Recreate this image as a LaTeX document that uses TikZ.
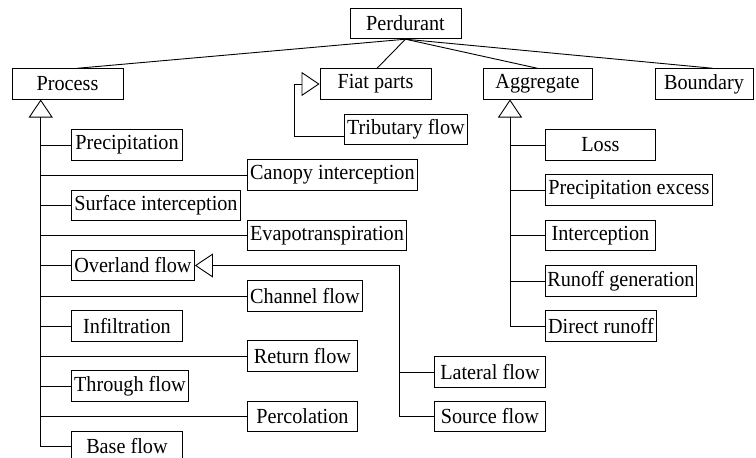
\documentclass[tikz,border=0pt]{standalone}
\usepackage{fontspec}
\setmainfont[FakeStretch=0.94]{Liberation Serif}
\usetikzlibrary{arrows.meta}
\definecolor{Ink}{HTML}{000000}
\tikzset{box/.style={draw=Ink,line width=.9pt,minimum height=30.5,inner xsep=1pt,inner ysep=0pt,font=\fontsize{21.5}{23}\selectfont},
  link/.style={draw=Ink,line width=.9pt},
  gen/.style={link,-{Triangle[open,length=18,width=24,line width=.9pt]}}}
\begin{document}
\begin{tikzpicture}[x=1pt,y=-1pt]
\useasboundingbox (0,0) rectangle (756,458);
% top level
\node[box,minimum width=111] (Perdurant) at (405.5,23.5) {Perdurant};
\node[box,minimum width=111] (Process) at (67.5,84) {Process};
\node[box,minimum width=111] (Fiat) at (375.5,84) {Fiat parts};
\node[box,minimum width=109] (Aggregate) at (537.5,84) {Aggregate};
\node[box,minimum width=98] (Boundary) at (704,84) {Boundary};
\node[box,minimum width=123,anchor=west] (Tributary) at (344,129.5) {Tributary flow};
% process column
\node[box,minimum width=111,anchor=west] (Precip) at (71,145) {Precipitation};
\node[box,minimum width=170,anchor=west] (Canopy) at (247,175) {Canopy interception};
\node[box,minimum width=169,anchor=west] (Surface) at (71,205.5) {Surface interception};
\node[box,minimum width=159,anchor=west] (Evapo) at (247,235.5) {Evapotranspiration};
\node[box,minimum width=123,anchor=west] (Overland) at (71,265.5) {Overland flow};
\node[box,minimum width=115,anchor=west] (Channel) at (247,296) {Channel flow};
\node[box,minimum width=111,anchor=west] (Infil) at (71,326) {Infiltration};
\node[box,minimum width=110,anchor=west] (Return) at (247,356) {Return flow};
\node[box,minimum width=117,anchor=west] (Through) at (71,386) {Through flow};
\node[box,minimum width=110,anchor=west] (Percol) at (247,416.5) {Percolation};
\node[box,minimum width=111,anchor=west] (Base) at (71,446.5) {Base flow};
\node[box,minimum width=111,anchor=west] (Lateral) at (434,372) {Lateral flow};
\node[box,minimum width=111,anchor=west] (Source) at (434,416.5) {Source flow};
% aggregate column
\node[box,minimum width=110,anchor=west] (Loss) at (545,145) {Loss};
\node[box,minimum width=167,anchor=west] (Excess) at (545,190) {Precipitation excess};
\node[box,minimum width=110,anchor=west] (Intercept) at (545,235.5) {Interception};
\node[box,minimum width=151,anchor=west] (Runoff) at (545,281) {Runoff generation};
\node[box,minimum width=111,anchor=west] (Direct) at (545,326) {Direct runoff};

\foreach \c/\dx in {Process/9.5,Fiat/1.5,Aggregate/0,Boundary/9}
  \draw[link] (Perdurant.south) -- ([xshift=\dx]\c.north);
\coordinate (procspine) at (40.7,99.5);
\coordinate (aggspine) at (510,99.5);
\draw[gen] (Base.west) -| (procspine);
\foreach \n in {Precip,Canopy,Surface,Evapo,Overland,Channel,Infil,Return,Through,Percol}
  \draw[link] (\n.west -| procspine) -- (\n.west);
\draw[gen] (Direct.west) -| (aggspine);
\foreach \n in {Loss,Excess,Intercept,Runoff}
  \draw[link] (\n.west -| aggspine) -- (\n.west);
\draw[gen] ([yshift=-7]Tributary.west) -- ++(-50,0) |- (Fiat.west);
\draw[gen] (Source.west) -- ++(-35,0) |- (Overland.east);
\draw[link] (Lateral.west) -- ++(-35,0);
\end{tikzpicture}
\end{document}
